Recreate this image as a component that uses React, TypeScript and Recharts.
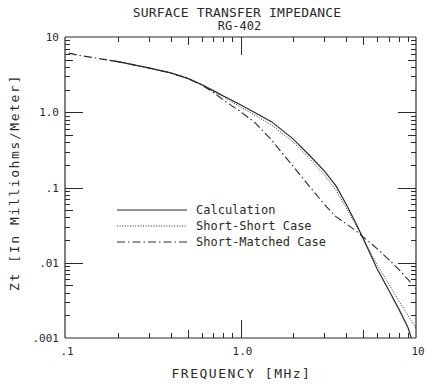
import React from 'react';
import { LineChart, Line, XAxis, YAxis } from 'recharts';

// frequency in MHz, Zt in milliohms/meter
const calcFreq = [0.18, 0.2, 0.3, 0.4, 0.5, 0.6, 0.7, 0.8, 1.0, 1.5, 2, 2.5, 3, 3.5, 4, 4.5, 5, 6, 7, 8, 9, 9.4];
const calcZt = [4.9, 4.7, 3.88, 3.33, 2.82, 2.34, 1.94, 1.64, 1.26, 0.75, 0.44, 0.26, 0.166, 0.105, 0.06, 0.035, 0.021, 0.0083, 0.0043, 0.0024, 0.00138, 0.001];

const shortFreq = [0.18, 0.2, 0.3, 0.4, 0.5, 0.6, 0.7, 0.8, 1.0, 1.5, 2, 2.5, 3, 3.5, 4, 4.5, 5, 6, 7, 8, 9, 10];
const shortZt = [4.9, 4.7, 3.88, 3.33, 2.82, 2.32, 1.9, 1.6, 1.18, 0.68, 0.4, 0.235, 0.148, 0.092, 0.054, 0.033, 0.021, 0.0095, 0.0052, 0.0031, 0.002, 0.00135];

const matchedFreq = [0.105, 0.12, 0.15, 0.18, 0.2, 0.3, 0.4, 0.5, 0.6, 0.7, 0.8, 1.0, 1.2, 1.5, 2, 2.5, 3, 3.5, 4, 4.6, 5, 6, 7, 8, 9, 10];
const matchedZt = [6.1, 5.7, 5.25, 4.9, 4.7, 3.88, 3.33, 2.82, 2.3, 1.84, 1.45, 1.02, 0.74, 0.43, 0.19, 0.1, 0.06, 0.041, 0.033, 0.026, 0.022, 0.0154, 0.011, 0.0081, 0.006, 0.0045];

const xTicks = [0.2, 0.3, 0.4, 0.5, 0.6, 0.7, 0.8, 0.9, 1, 2, 3, 4, 5, 6, 7, 8, 9];
const yTicks = [0.002, 0.003, 0.004, 0.005, 0.006, 0.007, 0.008, 0.009,
  0.01, 0.02, 0.03, 0.04, 0.05, 0.06, 0.07, 0.08, 0.09,
  0.1, 0.2, 0.3, 0.4, 0.5, 0.6, 0.7, 0.8, 0.9,
  1, 2, 3, 4, 5, 6, 7, 8, 9];
const xLabelTicks = [0.1, 1, 10];
const xLabels = ['.1', '1.0', '10'];
const yLabelTicks = [0.001, 0.01, 0.1, 1, 10];
const yLabels = ['.001', '.01', '.1', '1.0', '10'];

const seriesNames = ['Calculation', 'Short-Short Case', 'Short-Matched Case'];

const calcData = calcFreq.map((f, i) => ({ f, z: calcZt[i] }));
const shortData = shortFreq.map((f, i) => ({ f, z: shortZt[i] }));
const matchedData = matchedFreq.map((f, i) => ({ f, z: matchedZt[i] }));

const INK = '#2a2a2a';
const FONT = '"DejaVu Sans Mono", "Liberation Mono", monospace';
const X_MIN = 0.1, X_MAX = 10, Y_MIN = 0.001, Y_MAX = 10;

// plot box (must agree with the LineChart margins + axis sizes below)
const LEFT = 65, TOP = 37, PLOT_W = 351, PLOT_H = 301;
const RIGHT = LEFT + PLOT_W, BOTTOM = TOP + PLOT_H;
const px = (v: number) => LEFT + PLOT_W * Math.log10(v / X_MIN) / Math.log10(X_MAX / X_MIN);
const py = (v: number) => TOP + PLOT_H * Math.log10(Y_MAX / v) / Math.log10(Y_MAX / Y_MIN);

// 1 = decade, 5 = half decade, others minor
const tickLen = (v: number) => {
  const m = Math.round(v / Math.pow(10, Math.floor(Math.log10(v) + 1e-9)));
  if (m === 1) return 18;
  if (m === 5) return 8;
  return 5;
};

// inward tick marks on all four sides of the frame
const FrameTicks = () => (
  <svg width={432} height={389} style={{ position: 'absolute', left: 0, top: 0, pointerEvents: 'none' }}>
    {xTicks.map((v) => {
      const x = Math.round(px(v)) + 0.5;
      const len = tickLen(v);
      return (
        <g key={`x${v}`}>
          <line x1={x} x2={x} y1={BOTTOM} y2={BOTTOM - len} stroke={INK} strokeWidth={1} />
          <line x1={x} x2={x} y1={TOP} y2={TOP + len} stroke={INK} strokeWidth={1} />
        </g>
      );
    })}
    {yTicks.map((v) => {
      const y = Math.round(py(v)) + 0.5;
      const len = tickLen(v);
      return (
        <g key={`y${v}`}>
          <line x1={LEFT} x2={LEFT + len} y1={y} y2={y} stroke={INK} strokeWidth={1} />
          <line x1={RIGHT} x2={RIGHT - len} y1={y} y2={y} stroke={INK} strokeWidth={1} />
        </g>
      );
    })}
  </svg>
);

const renderBottomLabel = (p: any) => {
  const i = xLabelTicks.indexOf(p.payload.value);
  return (
    <text x={p.x + 2} y={p.y + 11} textAnchor="middle" fontSize={11} fontFamily={FONT} fill={INK}>
      {xLabels[i]}
    </text>
  );
};

const renderLeftLabel = (p: any) => {
  const i = yLabelTicks.indexOf(p.payload.value);
  return (
    <text x={p.x} y={p.y + 4} textAnchor="end" fontSize={11} fontFamily={FONT} fill={INK}>
      {yLabels[i]}
    </text>
  );
};

const dashes = [undefined, '1 1.6', '8 3 1.5 3'];

const LegendBox = () => (
  <svg width={240} height={50} style={{ position: 'absolute', left: 112, top: 202 }}>
    {seriesNames.map((name, i) => (
      <g key={name}>
        <line x1={5} x2={75} y1={8 + i * 16} y2={8 + i * 16} stroke={INK} strokeWidth={1.1} strokeDasharray={dashes[i]} />
        <text x={84} y={12 + i * 16} fontSize={12} fontFamily={FONT} fill={INK}>
          {name}
        </text>
      </g>
    ))}
  </svg>
);

export default function App() {
  return (
    <div style={{ position: 'absolute', left: 0, top: 0, width: 432, height: 389, background: '#fff', overflow: 'hidden' }}>
      <div style={{ position: 'absolute', left: 0, paddingLeft: 42, width: 390, top: 5, textAlign: 'center', fontFamily: FONT, fontSize: 13, letterSpacing: 0.2, color: INK }}>
        SURFACE TRANSFER IMPEDANCE
      </div>
      <div style={{ position: 'absolute', left: 0, paddingLeft: 47, width: 385, top: 19, textAlign: 'center', fontFamily: FONT, fontSize: 12, color: INK }}>
        RG-402
      </div>
      <div style={{ position: 'absolute', left: 0, paddingLeft: 51, width: 381, top: 366, textAlign: 'center', fontFamily: FONT, fontSize: 13, letterSpacing: 1.5, color: INK }}>
        FREQUENCY [MHz]
      </div>
      <div
        style={{
          position: 'absolute', left: 14, top: 184, width: 260, marginLeft: -130, marginTop: -9,
          textAlign: 'center', transform: 'rotate(-90deg)', fontFamily: FONT, fontSize: 13, letterSpacing: 1.6, color: INK,
        }}
      >
        Zt [In Milliohms/Meter]
      </div>
      <LineChart width={432} height={389} margin={{ top: TOP - 1, right: 432 - RIGHT - 1, bottom: 389 - BOTTOM - 1, left: LEFT - 1 }}>
        <XAxis xAxisId="b" dataKey="f" type="number" scale="log" domain={[X_MIN, X_MAX]} allowDataOverflow
          ticks={xLabelTicks} interval={0} tickSize={6} tickMargin={0} tickLine={false} tick={renderBottomLabel} height={1}
          axisLine={{ stroke: INK, strokeWidth: 1.2 }} />
        <XAxis xAxisId="t" orientation="top" dataKey="f" type="number" scale="log" domain={[X_MIN, X_MAX]} allowDataOverflow
          ticks={xLabelTicks} tick={false} tickLine={false} height={1}
          axisLine={{ stroke: INK, strokeWidth: 1.2 }} />
        <YAxis yAxisId="l" type="number" scale="log" domain={[Y_MIN, Y_MAX]} allowDataOverflow
          ticks={yLabelTicks} interval={0} tickSize={6} tickMargin={0} tickLine={false} tick={renderLeftLabel} width={1}
          axisLine={{ stroke: INK, strokeWidth: 1.2 }} />
        <YAxis yAxisId="r" orientation="right" type="number" scale="log" domain={[Y_MIN, Y_MAX]} allowDataOverflow
          ticks={yLabelTicks} tick={false} tickLine={false} width={1}
          axisLine={{ stroke: INK, strokeWidth: 1.2 }} />
        <Line xAxisId="b" yAxisId="l" data={calcData} dataKey="z" name={seriesNames[0]} type="linear"
          stroke={INK} strokeWidth={1.2} dot={false} isAnimationActive={false} />
        <Line xAxisId="b" yAxisId="l" data={shortData} dataKey="z" name={seriesNames[1]} type="linear"
          stroke={INK} strokeWidth={1} strokeDasharray="1 1.6" dot={false} isAnimationActive={false} />
        <Line xAxisId="b" yAxisId="l" data={matchedData} dataKey="z" name={seriesNames[2]} type="linear"
          stroke={INK} strokeWidth={1.1} strokeDasharray="8 3 1.5 3" dot={false} isAnimationActive={false} />
      </LineChart>
      <FrameTicks />
      <LegendBox />
    </div>
  );
}
